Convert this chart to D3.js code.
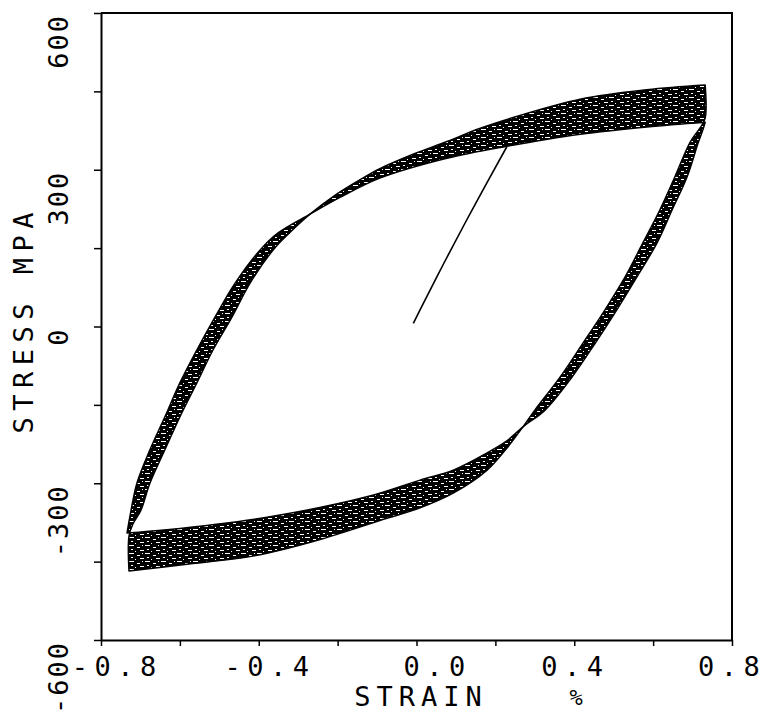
<!DOCTYPE html>
<html>
<head>
<meta charset="utf-8">
<script src="https://cdn.jsdelivr.net/npm/d3@7"></script>
<style>
    html, body { margin: 0; padding: 0; background: #fff; }
    svg text { font-family: "DejaVu Sans Mono", monospace; fill: #000; }
</style>
</head>
<body>
<div id="chart"></div>
<script>
// axis ticks
const strainTicks = [-0.8, -0.6, -0.4, -0.2, 0.0, 0.2, 0.4, 0.6, 0.8];
const strainLabels = ["-0.8", "-0.4", "0.0", "0.4", "0.8"];
const stressTicks = [-600, -450, -300, -150, 0, 150, 300, 450, 600];
const stressLabels = ["-600", "-300", "0", "300", "600"];

// [strain %, stress MPa]
// early cycle: highest peaks, edges the outside of the flat parts
const earlyUp = [
    [-0.729, -468], [-0.729, -401], [-0.719, -378], [-0.699, -352],
    [-0.676, -300], [-0.638, -236], [-0.600, -173], [-0.557, -108], [-0.516, -45],
    [-0.468, 18], [-0.422, 83], [-0.364, 146], [-0.321, 180], [-0.270, 215],
    [-0.207, 251], [-0.143, 281], [-0.093, 302], [-0.004, 331], [0.077, 354],
    [0.160, 379], [0.245, 400], [0.415, 435], [0.584, 453], [0.732, 462]
];
const earlyDown = [
    [0.732, 462], [0.732, 399], [0.719, 380], [0.694, 353],
    [0.655, 286], [0.617, 223], [0.574, 160], [0.529, 95], [0.478, 32],
    [0.422, -32], [0.364, -97], [0.300, -160], [0.270, -192], [0.229, -233],
    [0.179, -275], [0.093, -319], [0.009, -347], [-0.075, -367], [-0.242, -407],
    [-0.412, -439], [-0.582, -455], [-0.729, -468]
];
// late cycle: softened peaks, edges the outside of the steep parts
const lateUp = [
    [-0.734, -395], [-0.726, -361], [-0.709, -300], [-0.676, -236], [-0.638, -173],
    [-0.600, -108], [-0.557, -45], [-0.511, 18], [-0.460, 83], [-0.397, 146],
    [-0.351, 179], [-0.270, 215], [-0.194, 247], [-0.093, 284], [0.077, 322],
    [0.229, 345], [0.415, 368], [0.584, 382], [0.732, 391]
];
const lateDown = [
    [0.732, 391], [0.726, 376], [0.714, 351], [0.686, 286], [0.648, 223],
    [0.610, 160], [0.559, 95], [0.508, 32], [0.453, -32], [0.394, -97],
    [0.326, -160], [0.270, -192], [0.229, -219], [0.179, -242], [0.093, -275],
    [0.009, -294], [-0.126, -326], [-0.379, -365], [-0.633, -389], [-0.734, -395]
];
// first loading from zero
const monotonic = [[-0.008, 6], [0.009, 32], [0.070, 122], [0.148, 233], [0.229, 344]];

const width = 765, height = 714;

const svg = d3.select("#chart")
    .append("svg")
    .attr("width", width)
    .attr("height", height);

const x = d3.scaleLinear().domain([-0.8, 0.8]).range([101, 732]);
const y = d3.scaleLinear().domain([-600, 600]).range([640, 13]);

// speckled fill, like the overplotted pen strokes
const pat = svg.append("defs").append("pattern")
    .attr("id", "grain")
    .attr("patternUnits", "userSpaceOnUse")
    .attr("width", 16)
    .attr("height", 8);
pat.append("rect").attr("width", 16).attr("height", 8).attr("fill", "#000");
[[1, 1, 5], [9, 3, 3], [3, 5, 2], [12, 6, 4], [7, 7, 1], [14, 1, 1]].forEach(s => {
    pat.append("rect")
        .attr("x", s[0]).attr("y", s[1])
        .attr("width", s[2]).attr("height", 1)
        .attr("fill", "#fff");
});

const line = d3.line()
    .x(d => x(d[0]))
    .y(d => y(d[1]))
    .curve(d3.curveCatmullRom.alpha(0.5));

function loopPath(up, down) {
    return line(up) + line(down).replace(/^M/, "L") + "Z";
}

// band = area inside exactly one of the two loops
svg.append("path")
    .attr("d", loopPath(earlyUp, earlyDown) + loopPath(lateUp, lateDown))
    .attr("fill", "url(#grain)")
    .attr("fill-rule", "evenodd");

[[earlyUp, earlyDown], [lateUp, lateDown]].forEach(l => {
    svg.append("path")
        .attr("d", loopPath(l[0], l[1]))
        .attr("fill", "none")
        .attr("stroke", "#000")
        .attr("stroke-width", 1.5)
        .attr("stroke-linejoin", "round");
});

svg.append("path")
    .attr("d", line(monotonic))
    .attr("fill", "none")
    .attr("stroke", "#000")
    .attr("stroke-width", 1.6);

// axes
const xAxis = svg.append("g")
    .attr("transform", "translate(0," + y(-600) + ")")
    .call(d3.axisBottom(x).tickValues(strainTicks).tickSize(6).tickSizeOuter(0).tickFormat(""));
const yAxis = svg.append("g")
    .attr("transform", "translate(" + x(-0.8) + ",0)")
    .call(d3.axisLeft(y).tickValues(stressTicks).tickSize(7).tickSizeOuter(0).tickFormat(""));

[xAxis, yAxis].forEach(g => {
    g.select(".domain").attr("stroke", "#000").attr("stroke-width", 2);
    g.selectAll(".tick line").attr("stroke", "#000").attr("stroke-width", 1.5);
});

svg.append("path")
    .attr("d", "M" + x(-0.8) + "," + y(600) + "H" + x(0.8) + "V" + y(-600))
    .attr("fill", "none")
    .attr("stroke", "#000")
    .attr("stroke-width", 2);

// tick labels
const fs = 27, ls = 6.5;
const xNudge = {"-0.8": 13, "-0.4": 8, "0.0": 18, "0.4": -2, "0.8": -3};

svg.selectAll(".x-label").data(strainLabels).enter()
    .append("text")
    .attr("class", "x-label")
    .attr("x", d => x(+d) + xNudge[d] + ls / 2)
    .attr("y", 676)
    .attr("text-anchor", "middle")
    .attr("font-size", fs)
    .attr("letter-spacing", ls)
    .text(d => d);

svg.selectAll(".y-label").data(stressLabels).enter()
    .append("text")
    .attr("class", "y-label")
    .attr("transform", d => "translate(68," + (y(+d) + 1) + ") rotate(-90)")
    .attr("text-anchor", "end")
    .attr("font-size", fs)
    .attr("letter-spacing", 2)
    .text(d => d);

svg.append("text")
    .attr("transform", "translate(33,323) rotate(-90)")
    .attr("text-anchor", "middle")
    .attr("dx", ls / 2)
    .attr("font-size", fs)
    .attr("letter-spacing", ls)
    .text("STRESS MPA");

svg.append("text")
    .attr("x", 418 + 3)
    .attr("y", 706)
    .attr("text-anchor", "middle")
    .attr("font-size", fs)
    .attr("letter-spacing", 6)
    .text("STRAIN");

svg.append("text")
    .attr("x", 576)
    .attr("y", 705)
    .attr("text-anchor", "middle")
    .attr("font-size", 22)
    .text("%");
</script>
</body>
</html>
